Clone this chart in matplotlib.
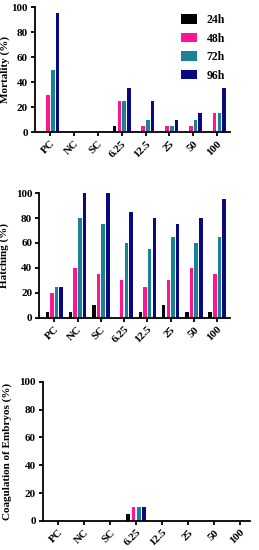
import numpy as np
import matplotlib
matplotlib.use("Agg")
import matplotlib.pyplot as plt

grupos = ["PC", "NC", "SC", "6.25", "12.5", "25", "50", "100"]
tiempos = ["24h", "48h", "72h", "96h"]
colores = ["#000000", "#FF1493", "#1A8196", "#0A0A80"]

mortalidad = {
    "24h": [0, 0, 0, 5, 0, 0, 0, 0],
    "48h": [30, 0, 0, 25, 5, 5, 5, 15],
    "72h": [50, 0, 0, 25, 10, 5, 10, 15],
    "96h": [95, 0, 0, 35, 25, 10, 15, 35],
}
eclosion = {
    "24h": [5, 5, 10, 0, 5, 10, 5, 5],
    "48h": [20, 40, 35, 30, 25, 30, 40, 35],
    "72h": [25, 80, 75, 60, 55, 65, 60, 65],
    "96h": [25, 100, 100, 85, 80, 75, 80, 95],
}
coagulacion = {
    "24h": [0, 0, 0, 5, 0, 0, 0, 0],
    "48h": [0, 0, 0, 10, 0, 0, 0, 0],
    "72h": [0, 0, 0, 10, 0, 0, 0, 0],
    "96h": [0, 0, 0, 10, 0, 0, 0, 0],
}

plt.rcParams["font.family"] = ["Liberation Serif", "DejaVu Serif"]
plt.rcParams["font.weight"] = "bold"

fig = plt.figure(figsize=(2.59, 5.5), dpi=100)
ax1 = fig.add_axes([0.135, 0.76, 0.753, 0.227])
ax2 = fig.add_axes([0.151, 0.422, 0.737, 0.227])
ax3 = fig.add_axes([0.166, 0.053, 0.799, 0.253])

x = np.arange(len(grupos))
paso = 0.2
ancho = 0.15

def dibujar(ax, datos, etiqueta, xlim, xlab):
    for i, t in enumerate(tiempos):
        ax.bar(x + (i - 1.5) * paso, datos[t], ancho, color=colores[i], label=t)
    ax.set_ylim(0, 100)
    ax.set_xlim(*xlim)
    ax.set_yticks([0, 20, 40, 60, 80, 100])
    ax.set_xticks(x)
    ax.set_xticklabels(grupos, rotation=45, ha="right", rotation_mode="anchor")
    ax.tick_params(axis="both", labelsize=8, width=1.3, length=3, pad=2)
    ax.set_ylabel(etiqueta, fontsize=8, fontweight="bold")
    ax.yaxis.set_label_coords(xlab, 0.5)
    for s in ["top", "right"]:
        ax.spines[s].set_visible(False)
    for s in ["left", "bottom"]:
        ax.spines[s].set_linewidth(1.3)

dibujar(ax1, mortalidad, "Mortality (%)", (-0.65, 7.55), -0.128)
dibujar(ax2, eclosion, "Hatching (%)", (-0.65, 7.55), -0.157)
dibujar(ax3, coagulacion, "Coagulation of Embryos (%)", (-0.58, 7.38), -0.15)

ax1.legend(loc="upper right", frameon=False, fontsize=8.5, handlelength=1.4,
           handleheight=0.9, labelspacing=0.55, handletextpad=0.8,
           bbox_to_anchor=(1.03, 1.03))

fig.savefig("out.png", dpi=100)
